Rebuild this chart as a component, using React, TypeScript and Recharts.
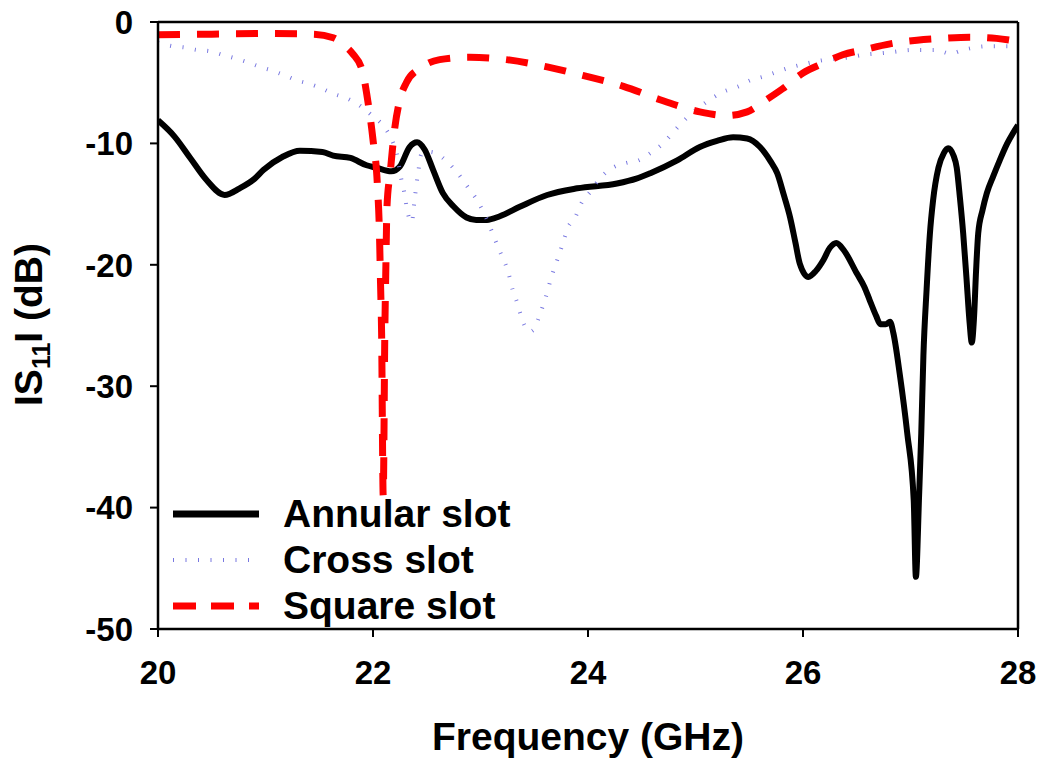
import React from "react";
import {
  LineChart,
  Line,
  XAxis,
  YAxis,
  ReferenceLine,
  Legend,
} from "recharts";

// ---- Data ----
const annularFreq = [
  20.0, 20.15, 20.3, 20.45, 20.62, 20.76, 20.9, 20.98, 21.16, 21.32, 21.53, 21.63, 21.79, 21.94,
  22.03, 22.17, 22.25, 22.34, 22.41, 22.48, 22.56, 22.65, 22.75, 22.87, 22.96, 23.06, 23.18,
  23.37, 23.62, 23.9, 24.27, 24.45, 24.58, 24.83, 25.04, 25.2, 25.35, 25.48, 25.6, 25.7, 25.76,
  25.82, 25.88, 25.93, 25.97, 26.05, 26.12, 26.19, 26.25, 26.31, 26.38, 26.5, 26.57, 26.62,
  26.68, 26.72, 26.77, 26.81, 26.84, 26.9, 26.97, 27.03, 27.05, 27.08, 27.1, 27.12, 27.15,
  27.18, 27.21, 27.26, 27.31, 27.35, 27.4, 27.43, 27.46, 27.49, 27.52, 27.55, 27.57, 27.59,
  27.61, 27.63, 27.67, 27.71, 27.77, 27.83, 27.9, 27.95, 28.0,
];
const annularDb = [
  -8.1, -9.4, -11.2, -13.0, -14.25, -13.7, -12.9, -12.2, -11.1, -10.6, -10.7, -11.0, -11.2, -11.8,
  -12.0, -12.3, -11.9, -10.3, -9.9, -10.5, -12.2, -14.1, -15.2, -16.1, -16.3, -16.3, -16.0,
  -15.2, -14.25, -13.7, -13.3, -12.9, -12.45, -11.4, -10.3, -9.8, -9.5, -9.6, -10.3, -11.5, -12.45,
  -14.2, -16.1, -18.2, -19.9, -21.0, -20.5, -19.6, -18.6, -18.2, -18.8, -20.7, -21.8, -22.9,
  -24.2, -24.9, -24.9, -24.7, -25.6, -29.0, -33.9, -39.4, -45.7, -39.0, -33.9, -27.5, -22.0,
  -17.5, -14.7, -12.0, -10.8, -10.4, -11.0, -12.0, -14.5, -17.4, -21.0, -24.8, -26.4, -24.5,
  -20.5, -17.4, -15.5, -14.1, -12.7, -11.4, -10.0, -9.2, -8.5,
];

const crossFreq = [
  20.0, 20.14, 20.25, 20.36, 20.48, 20.6, 20.72, 20.83, 20.95, 21.06, 21.18, 21.29, 21.41, 21.53,
  21.63, 21.76, 21.88, 21.99, 22.1, 22.18, 22.22, 22.26, 22.29, 22.32, 22.36, 22.39, 22.42,
  22.45, 22.52, 22.58, 22.7, 22.8, 22.89, 22.97, 23.03, 23.09, 23.13, 23.18, 23.23, 23.27, 23.3,
  23.34, 23.37, 23.41, 23.46, 23.5, 23.54, 23.58, 23.62, 23.65, 23.69, 23.73, 23.77, 23.81,
  23.88, 23.94, 24.02, 24.11, 24.23, 24.36, 24.47, 24.58, 24.7, 24.79, 24.92, 25.04, 25.15,
  25.27, 25.4, 25.51, 25.63, 25.76, 25.86, 25.99, 26.09, 26.22, 26.33, 26.44, 26.56, 26.69,
  26.81, 27.02, 27.24, 27.37, 27.49, 27.72, 28.0,
];
const crossDb = [
  -1.7, -2.0, -2.1, -2.3, -2.4, -2.7, -3.0, -3.3, -3.7, -4.0, -4.4, -4.8, -5.1, -5.5,
  -5.9, -6.3, -6.9, -7.7, -8.6, -9.8, -10.8, -12.8, -14.0, -15.6, -16.5, -14.4, -12.4,
  -10.9, -10.7, -10.8, -11.6, -12.6, -13.7, -14.7, -15.7, -16.9, -17.8, -18.9, -19.9, -21.0, -22.1,
  -23.1, -24.0, -25.0, -25.5, -25.3, -24.4, -23.4, -22.3, -21.3, -20.2, -19.2, -18.1, -17.0,
  -16.1, -14.9, -14.0, -12.9, -12.0, -11.6, -11.4, -10.8, -10.0, -9.1, -7.9, -7.0, -6.3,
  -5.7, -5.3, -4.8, -4.5, -4.1, -3.8, -3.5, -3.3, -3.1, -3.0, -2.9, -2.7, -2.6,
  -2.5, -2.3, -2.3, -2.6, -2.3, -2.0, -2.0,
];

const squareFreq = [
  20.0, 20.5, 21.0, 21.44, 21.63, 21.73, 21.81, 21.9, 21.95, 22.0, 22.04, 22.06, 22.07, 22.08,
  22.095, 22.11, 22.12, 22.13, 22.16, 22.2, 22.25, 22.31, 22.44, 22.62, 22.9, 23.24, 23.62,
  23.95, 24.33, 24.67, 25.04, 25.29, 25.48, 25.66, 25.81, 26.0, 26.19, 26.37, 26.56, 26.81,
  27.06, 27.3, 27.55, 27.8, 28.0,
];
const squareDb = [
  -1.05, -1.0, -0.95, -1.0, -1.3, -1.9, -2.6, -4.0, -6.4, -9.7, -13.3, -17.4, -21.5, -25.6,
  -39.0, -25.6, -20.0, -15.2, -12.4, -8.9, -6.4, -5.0, -3.8, -3.1, -2.9, -3.1, -3.7,
  -4.4, -5.3, -6.4, -7.4, -7.7, -7.4, -6.4, -5.5, -4.2, -3.4, -2.7, -2.3, -1.8,
  -1.5, -1.35, -1.25, -1.35, -1.6,
];

const xTicks = [20, 22, 24, 26, 28];
const yTicks = [-50, -40, -30, -20, -10, 0];
const seriesNames = ["Annular slot", "Cross slot", "Square slot"];

const annularData = annularFreq.map((f, i) => ({ f, db: annularDb[i] }));
const crossData = crossFreq.map((f, i) => ({ f, db: crossDb[i] }));
const squareData = squareFreq.map((f, i) => ({ f, db: squareDb[i] }));

const FONT = "'Liberation Sans', Arial, Helvetica, sans-serif";

const styles = [
  { stroke: "#000000", width: 6, dash: undefined as string | undefined },
  { stroke: "#7878e0", width: 4, dash: "1 11.5" },
  { stroke: "#ff0000", width: 7, dash: "22 17" },
];

function XTitle(props: any) {
  const vb = props.viewBox || { x: 158, y: 629, width: 860, height: 129 };
  return (
    <text
      x={vb.x + vb.width / 2}
      y={vb.y + vb.height - 8}
      textAnchor="middle"
      fontFamily={FONT}
      fontWeight="bold"
      fontSize={39}
      fill="#000"
    >
      Frequency (GHz)
    </text>
  );
}

function YTitle(props: any) {
  const vb = props.viewBox || { x: 0, y: 22, width: 158, height: 607 };
  const cx = vb.x + 42;
  const cy = vb.y + vb.height / 2 - 1;
  return (
    <text
      x={cx}
      y={cy}
      transform={`rotate(-90, ${cx}, ${cy})`}
      textAnchor="middle"
      fontFamily={FONT}
      fontWeight="bold"
      fontSize={39}
      fill="#000"
    >
      <tspan>IS</tspan>
      <tspan fontSize={25} dy={8}>11</tspan>
      <tspan dy={-8}>I (dB)</tspan>
    </text>
  );
}

function LegendBox() {
  return (
    <div style={{ fontFamily: FONT, fontWeight: "bold", fontSize: 39, lineHeight: "46px", color: "#000" }}>
      {seriesNames.map((name, i) => (
        <div key={name} style={{ display: "flex", alignItems: "center", height: 46, whiteSpace: "nowrap" }}>
          <svg width={86} height={14} style={{ marginRight: 24, flex: "none" }}>
            <line
              x1={0}
              y1={7}
              x2={86}
              y2={7}
              stroke={styles[i].stroke}
              strokeWidth={i === 0 ? 7 : styles[i].width}
              strokeDasharray={i === 2 ? "23 15" : styles[i].dash}
            />
          </svg>
          <span>{name}</span>
        </div>
      ))}
    </div>
  );
}

export default function App() {
  const tickStyle = { fontSize: 33, fontWeight: "bold", fill: "#000", fontFamily: FONT };
  return (
    <div style={{ position: "absolute", left: 0, top: 0, background: "#fff" }}>
      <LineChart
        width={1039}
        height={758}
        margin={{ top: 22, right: 21, left: 0, bottom: 0 }}
      >
        <XAxis
          dataKey="f"
          type="number"
          domain={[20, 28]}
          ticks={xTicks}
          allowDataOverflow
          height={129}
          tickSize={8}
          tickMargin={24}
          axisLine={{ stroke: "#000", strokeWidth: 2.5 }}
          tickLine={{ stroke: "#000", strokeWidth: 2 }}
          tick={tickStyle}
          label={(p: any) => <XTitle {...p} />}
        />
        <YAxis
          type="number"
          domain={[-50, 0]}
          ticks={yTicks}
          allowDataOverflow
          width={158}
          tickSize={8}
          tickMargin={17}
          axisLine={{ stroke: "#000", strokeWidth: 2.5 }}
          tickLine={{ stroke: "#000", strokeWidth: 2 }}
          tick={tickStyle}
          label={(p: any) => <YTitle {...p} />}
        />
        <ReferenceLine y={0} stroke="#000" strokeWidth={2.5} />
        <ReferenceLine x={28} stroke="#000" strokeWidth={2.5} />
        <Line
          data={annularData}
          dataKey="db"
          name={seriesNames[0]}
          type="monotone"
          dot={false}
          stroke={styles[0].stroke}
          strokeWidth={styles[0].width}
          isAnimationActive={false}
        />
        <Line
          data={crossData}
          dataKey="db"
          name={seriesNames[1]}
          type="monotone"
          dot={false}
          stroke={styles[1].stroke}
          strokeWidth={styles[1].width}
          strokeDasharray={styles[1].dash}
          isAnimationActive={false}
        />
        <Line
          data={squareData}
          dataKey="db"
          name={seriesNames[2]}
          type="monotone"
          dot={false}
          stroke={styles[2].stroke}
          strokeWidth={styles[2].width}
          strokeDasharray={styles[2].dash}
          isAnimationActive={false}
        />
        <Legend
          layout="vertical"
          align="center"
          verticalAlign="middle"
          wrapperStyle={{ position: "absolute", left: 173, top: 491, width: "auto", height: "auto" }}
          content={() => <LegendBox />}
        />
      </LineChart>
    </div>
  );
}
